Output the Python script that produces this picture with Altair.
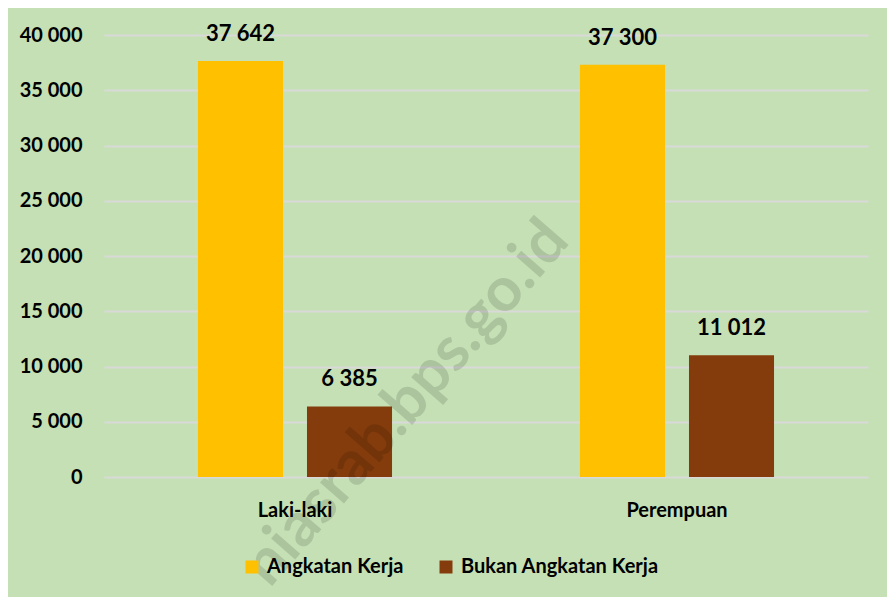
import altair as alt
import pandas as pd

categories = ["Laki-laki", "Perempuan"]
series = ["Angkatan Kerja", "Bukan Angkatan Kerja"]
angkatan_kerja = [37642, 37300]
bukan_angkatan_kerja = [6385, 11012]
y_ticks = [0, 5000, 10000, 15000, 20000, 25000, 30000, 35000, 40000]
colors = ["#FFC000", "#843C0C"]
watermark_text = ["niasrab.bps.go.id"]

rows = []
for i, cat in enumerate(categories):
    for s, vals in zip(series, [angkatan_kerja, bukan_angkatan_kerja]):
        v = vals[i]
        rows.append({"kategori": cat, "seri": s, "nilai": v,
                     "label": f"{v:,}".replace(",", " ")})
df = pd.DataFrame(rows)

FONT = "Lato"

x_enc = alt.X("kategori:N", sort=categories,
              scale=alt.Scale(paddingInner=0, paddingOuter=0),
              axis=alt.Axis(title=None, labelAngle=0, labelFont=FONT, labelFontSize=20,
                            labelFontWeight="bold", labelColor="black", domain=False,
                            ticks=False, labelPadding=23, grid=False))
xoff_enc = alt.XOffset("seri:N", sort=series,
                       scale=alt.Scale(paddingInner=0.22, paddingOuter=0.862))
y_enc = alt.Y("nilai:Q", scale=alt.Scale(domain=[0, 40000], nice=False),
              axis=alt.Axis(title=None, values=y_ticks, labelFont=FONT, labelFontSize=20,
                            labelFontWeight="bold", labelColor="black", domain=False,
                            ticks=False, labelPadding=22, gridColor="#D9D9D9", gridWidth=2,
                            labelExpr="replace(format(datum.value, ','), ',', ' ')"))

base = alt.Chart(df)
bars = base.mark_bar().encode(
    x=x_enc, xOffset=xoff_enc, y=y_enc,
    color=alt.Color("seri:N", sort=series,
                    scale=alt.Scale(domain=series, range=colors),
                    legend=alt.Legend(title=None, orient="none", legendX=138, legendY=522,
                                      direction="horizontal", symbolType="square",
                                      symbolSize=169, symbolStrokeWidth=0,
                                      labelFont=FONT, labelFontSize=20, labelFontWeight="bold",
                                      labelColor="black", columnPadding=32, labelOffset=5,
                                      labelLimit=400)),
)
labels = base.mark_text(dy=-20, baseline="alphabetic", fontSize=22, fontWeight="bold",
                        font=FONT, color="black").encode(
    x=x_enc, xOffset=xoff_enc, y=y_enc, text="label:N")

wm = alt.Chart(pd.DataFrame({"t": watermark_text})).mark_text(
    angle=311, font=FONT, fontWeight="bold", fontSize=62, color="black", opacity=0.12,
    align="center", baseline="middle").encode(
    x=alt.value(302), y=alt.value(368), text="t:N")

chart = alt.layer(bars, labels, wm).properties(
    width=764, height=442,
    autosize=alt.AutoSizeParams(type="none"),
    padding={"left": 96, "top": 27, "right": 19, "bottom": 120},
    background="#C5E0B4",
).configure_view(strokeWidth=0)

chart.save("out.html", embed_options={"renderer": "svg", "actions": False})
